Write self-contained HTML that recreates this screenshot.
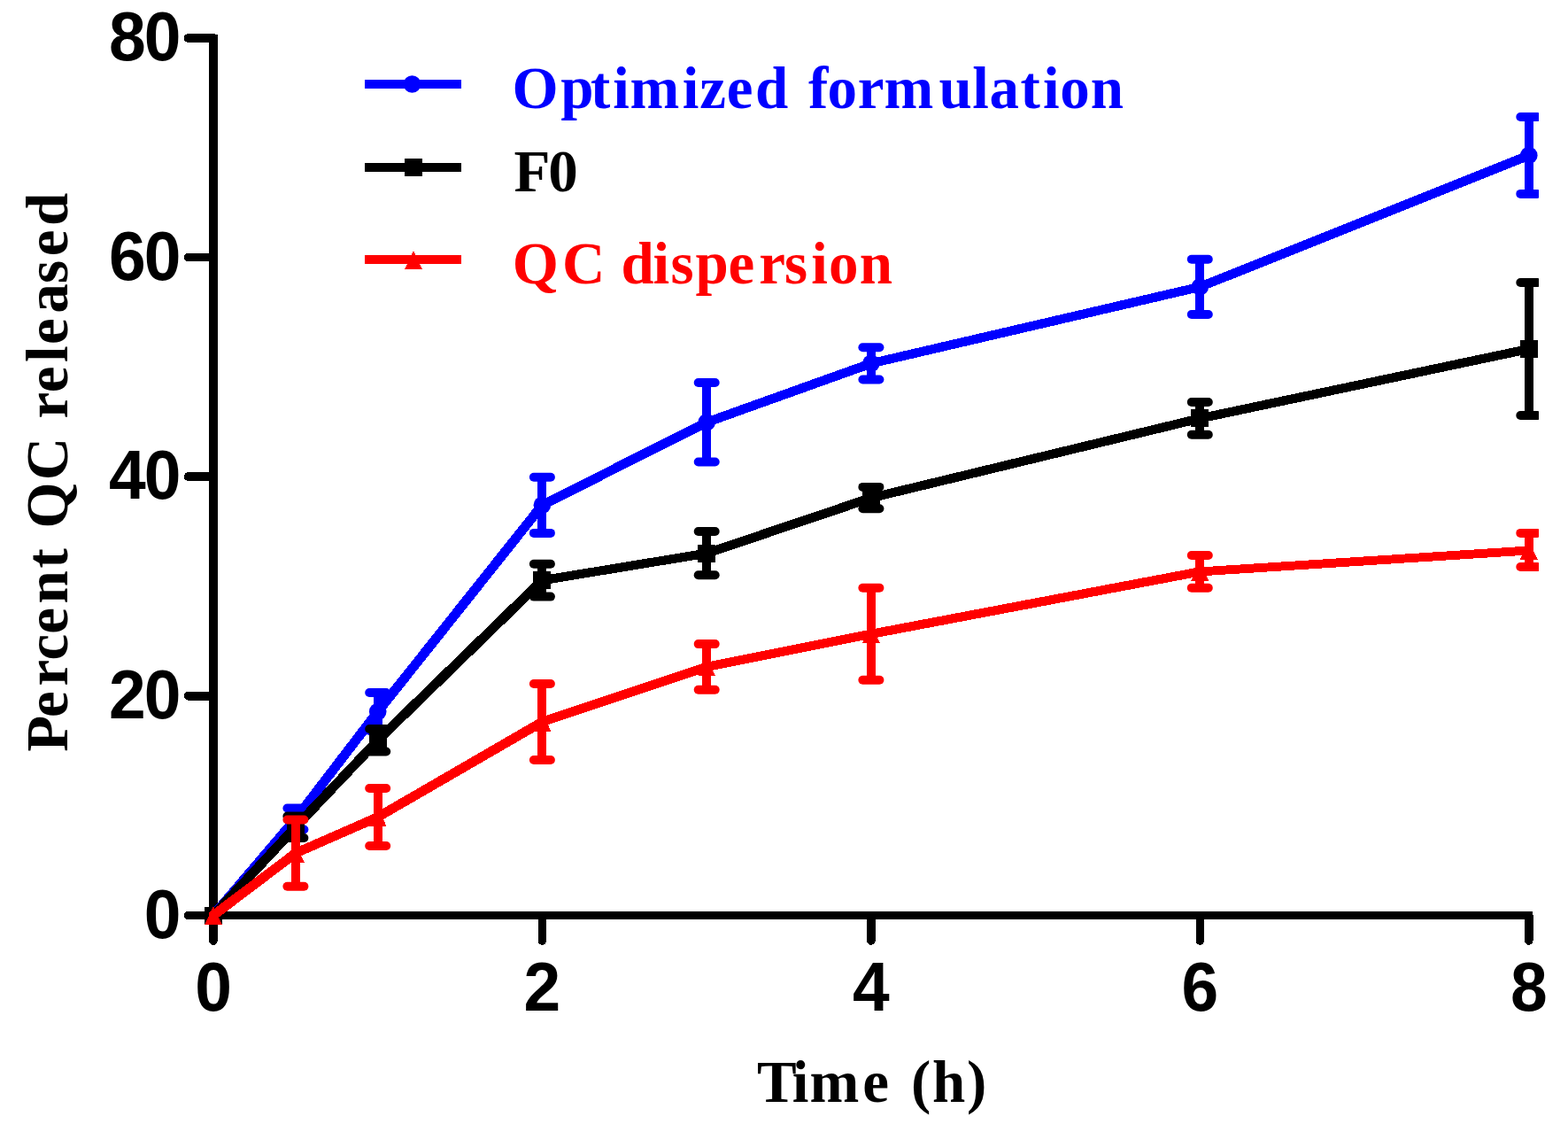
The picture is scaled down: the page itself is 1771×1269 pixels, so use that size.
<!DOCTYPE html>
<html><head><meta charset="utf-8"><title>Percent QC released vs Time</title>
<style>html,body{margin:0;padding:0;background:#fff;}svg{display:block;}</style>
</head><body>
<svg width="1771" height="1269" viewBox="0 0 1771 1269">
<defs><clipPath id="pc"><rect x="0" y="0" width="1738" height="1269"/></clipPath></defs>
<rect width="1771" height="1269" fill="#fff"/>
<g stroke="#000" fill="none" shape-rendering="crispEdges">
<line x1="241" y1="38.5" x2="241" y2="1033.5" stroke-width="10"/>
<line x1="241" y1="1033.5" x2="1731" y2="1033.5" stroke-width="9"/>
<line x1="212.5" y1="1033.5" x2="241" y2="1033.5" stroke-width="9.6" stroke-linecap="round"/>
<line x1="236" y1="1033.5" x2="241" y2="1033.5" stroke-width="9.6"/>
<line x1="212.5" y1="785.8" x2="241" y2="785.8" stroke-width="9.6" stroke-linecap="round"/>
<line x1="236" y1="785.8" x2="241" y2="785.8" stroke-width="9.6"/>
<line x1="212.5" y1="538.1" x2="241" y2="538.1" stroke-width="9.6" stroke-linecap="round"/>
<line x1="236" y1="538.1" x2="241" y2="538.1" stroke-width="9.6"/>
<line x1="212.5" y1="290.6" x2="241" y2="290.6" stroke-width="9.6" stroke-linecap="round"/>
<line x1="236" y1="290.6" x2="241" y2="290.6" stroke-width="9.6"/>
<line x1="212.5" y1="43.0" x2="241" y2="43.0" stroke-width="9.6" stroke-linecap="round"/>
<line x1="236" y1="43.0" x2="241" y2="43.0" stroke-width="9.6"/>
<line x1="241.0" y1="1033.5" x2="241.0" y2="1062" stroke-width="9.6" stroke-linecap="round"/>
<line x1="612.4" y1="1033.5" x2="612.4" y2="1062" stroke-width="9.6" stroke-linecap="round"/>
<line x1="983.9" y1="1033.5" x2="983.9" y2="1062" stroke-width="9.6" stroke-linecap="round"/>
<line x1="1355.3" y1="1033.5" x2="1355.3" y2="1062" stroke-width="9.6" stroke-linecap="round"/>
<line x1="1726.8" y1="1033.5" x2="1726.8" y2="1062" stroke-width="9.6" stroke-linecap="round"/>
<line x1="241" y1="43" x2="241" y2="38.5" stroke-width="10"/>
</g>
<g font-family="Liberation Sans, Arial, sans-serif" font-weight="bold" font-size="75" fill="#000">
<text transform="translate(204.5,1058.5) scale(1,1.035)" text-anchor="end">0</text>
<text transform="translate(202.5,810.8) scale(1,1.035)" text-anchor="end" letter-spacing="-2">20</text>
<text transform="translate(202.5,563.1) scale(1,1.035)" text-anchor="end" letter-spacing="-2">40</text>
<text transform="translate(202.5,315.6) scale(1,1.035)" text-anchor="end" letter-spacing="-2">60</text>
<text transform="translate(202.5,68.0) scale(1,1.035)" text-anchor="end" letter-spacing="-2">80</text>
<text transform="translate(241.0,1141) scale(1,1.035)" text-anchor="middle">0</text>
<text transform="translate(612.4,1141) scale(1,1.035)" text-anchor="middle">2</text>
<text transform="translate(983.9,1141) scale(1,1.035)" text-anchor="middle">4</text>
<text transform="translate(1355.3,1141) scale(1,1.035)" text-anchor="middle">6</text>
<text transform="translate(1726.8,1141) scale(1,1.035)" text-anchor="middle">8</text>
</g>
<g font-family="Liberation Serif, Times New Roman, serif" font-weight="bold" font-size="67" fill="#000">
<text x="854.9 894.8 914.5 974.3 1004.0 1029.1 1053.1 1092.0" y="1244">Time (h)</text>
<text transform="translate(75.5,847.6) rotate(-90)" x="-1.2 37.6 73.0 102.2 131.9 166.2 206.0 228.3 251.2 305.4 353.8 375.2 404.3 438.6 458.6 493.9 527.5 558.4 592.5" y="0">Percent QC released</text>
</g>
<g clip-path="url(#pc)" shape-rendering="crispEdges">
<line x1="241.0" y1="1033.5" x2="333.9" y2="924.5" stroke="#0000ff" stroke-width="10.89" stroke-linecap="round"/>
<line x1="333.9" y1="924.5" x2="426.7" y2="803.5" stroke="#0000ff" stroke-width="10.86" stroke-linecap="round"/>
<line x1="426.7" y1="803.5" x2="612.4" y2="570.3" stroke="#0000ff" stroke-width="10.87" stroke-linecap="round"/>
<line x1="612.4" y1="570.3" x2="798.2" y2="476.8" stroke="#0000ff" stroke-width="10.68" stroke-linecap="round"/>
<line x1="798.2" y1="476.8" x2="983.9" y2="410.3" stroke="#0000ff" stroke-width="10.50" stroke-linecap="round"/>
<line x1="983.9" y1="410.3" x2="1355.3" y2="323.9" stroke="#0000ff" stroke-width="10.29" stroke-linecap="round"/>
<line x1="1355.3" y1="323.9" x2="1726.8" y2="175.4" stroke="#0000ff" stroke-width="10.56" stroke-linecap="round"/>
<line x1="333.9" y1="912.5" x2="333.9" y2="936.5" stroke="#0000ff" stroke-width="10"/>
<line x1="324.4" y1="912.5" x2="343.4" y2="912.5" stroke="#0000ff" stroke-width="10" stroke-linecap="round" shape-rendering="auto"/>
<line x1="324.4" y1="936.5" x2="343.4" y2="936.5" stroke="#0000ff" stroke-width="10" stroke-linecap="round" shape-rendering="auto"/>
<line x1="426.7" y1="782.0" x2="426.7" y2="825.0" stroke="#0000ff" stroke-width="10"/>
<line x1="417.2" y1="782.0" x2="436.2" y2="782.0" stroke="#0000ff" stroke-width="10" stroke-linecap="round" shape-rendering="auto"/>
<line x1="417.2" y1="825.0" x2="436.2" y2="825.0" stroke="#0000ff" stroke-width="10" stroke-linecap="round" shape-rendering="auto"/>
<line x1="612.4" y1="538.8" x2="612.4" y2="601.9" stroke="#0000ff" stroke-width="10"/>
<line x1="602.9" y1="538.8" x2="621.9" y2="538.8" stroke="#0000ff" stroke-width="10" stroke-linecap="round" shape-rendering="auto"/>
<line x1="602.9" y1="601.9" x2="621.9" y2="601.9" stroke="#0000ff" stroke-width="10" stroke-linecap="round" shape-rendering="auto"/>
<line x1="798.2" y1="432.0" x2="798.2" y2="521.5" stroke="#0000ff" stroke-width="10"/>
<line x1="788.7" y1="432.0" x2="807.7" y2="432.0" stroke="#0000ff" stroke-width="10" stroke-linecap="round" shape-rendering="auto"/>
<line x1="788.7" y1="521.5" x2="807.7" y2="521.5" stroke="#0000ff" stroke-width="10" stroke-linecap="round" shape-rendering="auto"/>
<line x1="983.9" y1="392.2" x2="983.9" y2="428.5" stroke="#0000ff" stroke-width="10"/>
<line x1="974.4" y1="392.2" x2="993.4" y2="392.2" stroke="#0000ff" stroke-width="10" stroke-linecap="round" shape-rendering="auto"/>
<line x1="974.4" y1="428.5" x2="993.4" y2="428.5" stroke="#0000ff" stroke-width="10" stroke-linecap="round" shape-rendering="auto"/>
<line x1="1355.3" y1="292.8" x2="1355.3" y2="355.0" stroke="#0000ff" stroke-width="10"/>
<line x1="1345.8" y1="292.8" x2="1364.8" y2="292.8" stroke="#0000ff" stroke-width="10" stroke-linecap="round" shape-rendering="auto"/>
<line x1="1345.8" y1="355.0" x2="1364.8" y2="355.0" stroke="#0000ff" stroke-width="10" stroke-linecap="round" shape-rendering="auto"/>
<line x1="1726.8" y1="132.0" x2="1726.8" y2="218.9" stroke="#0000ff" stroke-width="10"/>
<line x1="1717.3" y1="132.0" x2="1736.3" y2="132.0" stroke="#0000ff" stroke-width="10" stroke-linecap="round" shape-rendering="auto"/>
<line x1="1717.3" y1="218.9" x2="1736.3" y2="218.9" stroke="#0000ff" stroke-width="10" stroke-linecap="round" shape-rendering="auto"/>
<circle cx="241.0" cy="1033.5" r="9.8" fill="#0000ff" shape-rendering="auto"/>
<circle cx="333.9" cy="924.5" r="9.8" fill="#0000ff" shape-rendering="auto"/>
<circle cx="426.7" cy="803.5" r="9.8" fill="#0000ff" shape-rendering="auto"/>
<circle cx="612.4" cy="570.3" r="9.8" fill="#0000ff" shape-rendering="auto"/>
<circle cx="798.2" cy="476.8" r="9.8" fill="#0000ff" shape-rendering="auto"/>
<circle cx="983.9" cy="410.3" r="9.8" fill="#0000ff" shape-rendering="auto"/>
<circle cx="1355.3" cy="323.9" r="9.8" fill="#0000ff" shape-rendering="auto"/>
<circle cx="1726.8" cy="175.4" r="9.8" fill="#0000ff" shape-rendering="auto"/>
<line x1="241.0" y1="1033.5" x2="333.9" y2="933.7" stroke="#000000" stroke-width="10.90" stroke-linecap="round"/>
<line x1="333.9" y1="933.7" x2="426.7" y2="835.8" stroke="#000000" stroke-width="10.90" stroke-linecap="round"/>
<line x1="426.7" y1="835.8" x2="612.4" y2="655.2" stroke="#000000" stroke-width="10.90" stroke-linecap="round"/>
<line x1="612.4" y1="655.2" x2="798.2" y2="624.7" stroke="#000000" stroke-width="10.15" stroke-linecap="round"/>
<line x1="798.2" y1="624.7" x2="983.9" y2="562.1" stroke="#000000" stroke-width="10.47" stroke-linecap="round"/>
<line x1="983.9" y1="562.1" x2="1355.3" y2="472.4" stroke="#000000" stroke-width="10.30" stroke-linecap="round"/>
<line x1="1355.3" y1="472.4" x2="1726.8" y2="394.0" stroke="#000000" stroke-width="10.24" stroke-linecap="round"/>
<line x1="333.9" y1="921.5" x2="333.9" y2="946.0" stroke="#000000" stroke-width="10"/>
<line x1="324.4" y1="921.5" x2="343.4" y2="921.5" stroke="#000000" stroke-width="10" stroke-linecap="round" shape-rendering="auto"/>
<line x1="324.4" y1="946.0" x2="343.4" y2="946.0" stroke="#000000" stroke-width="10" stroke-linecap="round" shape-rendering="auto"/>
<line x1="426.7" y1="823.0" x2="426.7" y2="848.5" stroke="#000000" stroke-width="10"/>
<line x1="417.2" y1="823.0" x2="436.2" y2="823.0" stroke="#000000" stroke-width="10" stroke-linecap="round" shape-rendering="auto"/>
<line x1="417.2" y1="848.5" x2="436.2" y2="848.5" stroke="#000000" stroke-width="10" stroke-linecap="round" shape-rendering="auto"/>
<line x1="612.4" y1="636.8" x2="612.4" y2="673.6" stroke="#000000" stroke-width="10"/>
<line x1="602.9" y1="636.8" x2="621.9" y2="636.8" stroke="#000000" stroke-width="10" stroke-linecap="round" shape-rendering="auto"/>
<line x1="602.9" y1="673.6" x2="621.9" y2="673.6" stroke="#000000" stroke-width="10" stroke-linecap="round" shape-rendering="auto"/>
<line x1="798.2" y1="600.0" x2="798.2" y2="649.3" stroke="#000000" stroke-width="10"/>
<line x1="788.7" y1="600.0" x2="807.7" y2="600.0" stroke="#000000" stroke-width="10" stroke-linecap="round" shape-rendering="auto"/>
<line x1="788.7" y1="649.3" x2="807.7" y2="649.3" stroke="#000000" stroke-width="10" stroke-linecap="round" shape-rendering="auto"/>
<line x1="983.9" y1="549.9" x2="983.9" y2="574.3" stroke="#000000" stroke-width="10"/>
<line x1="974.4" y1="549.9" x2="993.4" y2="549.9" stroke="#000000" stroke-width="10" stroke-linecap="round" shape-rendering="auto"/>
<line x1="974.4" y1="574.3" x2="993.4" y2="574.3" stroke="#000000" stroke-width="10" stroke-linecap="round" shape-rendering="auto"/>
<line x1="1355.3" y1="454.0" x2="1355.3" y2="490.8" stroke="#000000" stroke-width="10"/>
<line x1="1345.8" y1="454.0" x2="1364.8" y2="454.0" stroke="#000000" stroke-width="10" stroke-linecap="round" shape-rendering="auto"/>
<line x1="1345.8" y1="490.8" x2="1364.8" y2="490.8" stroke="#000000" stroke-width="10" stroke-linecap="round" shape-rendering="auto"/>
<line x1="1726.8" y1="319.0" x2="1726.8" y2="469.0" stroke="#000000" stroke-width="10"/>
<line x1="1717.3" y1="319.0" x2="1736.3" y2="319.0" stroke="#000000" stroke-width="10" stroke-linecap="round" shape-rendering="auto"/>
<line x1="1717.3" y1="469.0" x2="1736.3" y2="469.0" stroke="#000000" stroke-width="10" stroke-linecap="round" shape-rendering="auto"/>
<rect x="231.0" y="1023.5" width="20" height="20" fill="#000000"/>
<rect x="323.9" y="923.7" width="20" height="20" fill="#000000"/>
<rect x="416.7" y="825.8" width="20" height="20" fill="#000000"/>
<rect x="602.4" y="645.2" width="20" height="20" fill="#000000"/>
<rect x="788.2" y="614.7" width="20" height="20" fill="#000000"/>
<rect x="973.9" y="552.1" width="20" height="20" fill="#000000"/>
<rect x="1345.3" y="462.4" width="20" height="20" fill="#000000"/>
<rect x="1716.8" y="384.0" width="20" height="20" fill="#000000"/>
<line x1="241.0" y1="1033.5" x2="333.9" y2="963.2" stroke="#ff0000" stroke-width="10.86" stroke-linecap="round"/>
<line x1="333.9" y1="963.2" x2="426.7" y2="922.5" stroke="#ff0000" stroke-width="10.61" stroke-linecap="round"/>
<line x1="426.7" y1="922.5" x2="612.4" y2="815.0" stroke="#ff0000" stroke-width="10.75" stroke-linecap="round"/>
<line x1="612.4" y1="815.0" x2="798.2" y2="752.9" stroke="#ff0000" stroke-width="10.46" stroke-linecap="round"/>
<line x1="798.2" y1="752.9" x2="983.9" y2="715.8" stroke="#ff0000" stroke-width="10.22" stroke-linecap="round"/>
<line x1="983.9" y1="715.8" x2="1355.3" y2="645.4" stroke="#ff0000" stroke-width="10.20" stroke-linecap="round"/>
<line x1="1355.3" y1="645.4" x2="1726.8" y2="621.5" stroke="#ff0000" stroke-width="9.94" stroke-linecap="round"/>
<line x1="333.9" y1="925.5" x2="333.9" y2="1000.8" stroke="#ff0000" stroke-width="10"/>
<line x1="324.4" y1="925.5" x2="343.4" y2="925.5" stroke="#ff0000" stroke-width="10" stroke-linecap="round" shape-rendering="auto"/>
<line x1="324.4" y1="1000.8" x2="343.4" y2="1000.8" stroke="#ff0000" stroke-width="10" stroke-linecap="round" shape-rendering="auto"/>
<line x1="426.7" y1="890.0" x2="426.7" y2="955.0" stroke="#ff0000" stroke-width="10"/>
<line x1="417.2" y1="890.0" x2="436.2" y2="890.0" stroke="#ff0000" stroke-width="10" stroke-linecap="round" shape-rendering="auto"/>
<line x1="417.2" y1="955.0" x2="436.2" y2="955.0" stroke="#ff0000" stroke-width="10" stroke-linecap="round" shape-rendering="auto"/>
<line x1="612.4" y1="772.0" x2="612.4" y2="858.0" stroke="#ff0000" stroke-width="10"/>
<line x1="602.9" y1="772.0" x2="621.9" y2="772.0" stroke="#ff0000" stroke-width="10" stroke-linecap="round" shape-rendering="auto"/>
<line x1="602.9" y1="858.0" x2="621.9" y2="858.0" stroke="#ff0000" stroke-width="10" stroke-linecap="round" shape-rendering="auto"/>
<line x1="798.2" y1="727.1" x2="798.2" y2="778.7" stroke="#ff0000" stroke-width="10"/>
<line x1="788.7" y1="727.1" x2="807.7" y2="727.1" stroke="#ff0000" stroke-width="10" stroke-linecap="round" shape-rendering="auto"/>
<line x1="788.7" y1="778.7" x2="807.7" y2="778.7" stroke="#ff0000" stroke-width="10" stroke-linecap="round" shape-rendering="auto"/>
<line x1="983.9" y1="663.8" x2="983.9" y2="767.8" stroke="#ff0000" stroke-width="10"/>
<line x1="974.4" y1="663.8" x2="993.4" y2="663.8" stroke="#ff0000" stroke-width="10" stroke-linecap="round" shape-rendering="auto"/>
<line x1="974.4" y1="767.8" x2="993.4" y2="767.8" stroke="#ff0000" stroke-width="10" stroke-linecap="round" shape-rendering="auto"/>
<line x1="1355.3" y1="627.0" x2="1355.3" y2="663.8" stroke="#ff0000" stroke-width="10"/>
<line x1="1345.8" y1="627.0" x2="1364.8" y2="627.0" stroke="#ff0000" stroke-width="10" stroke-linecap="round" shape-rendering="auto"/>
<line x1="1345.8" y1="663.8" x2="1364.8" y2="663.8" stroke="#ff0000" stroke-width="10" stroke-linecap="round" shape-rendering="auto"/>
<line x1="1726.8" y1="601.9" x2="1726.8" y2="640.0" stroke="#ff0000" stroke-width="10"/>
<line x1="1717.3" y1="601.9" x2="1736.3" y2="601.9" stroke="#ff0000" stroke-width="10" stroke-linecap="round" shape-rendering="auto"/>
<line x1="1717.3" y1="640.0" x2="1736.3" y2="640.0" stroke="#ff0000" stroke-width="10" stroke-linecap="round" shape-rendering="auto"/>
<polygon points="241.0,1023.0 251.0,1044.0 231.0,1044.0" fill="#ff0000"/>
<polygon points="333.9,952.7 343.9,973.7 323.9,973.7" fill="#ff0000"/>
<polygon points="426.7,912.0 436.7,933.0 416.7,933.0" fill="#ff0000"/>
<polygon points="612.4,804.5 622.4,825.5 602.4,825.5" fill="#ff0000"/>
<polygon points="798.2,742.4 808.2,763.4 788.2,763.4" fill="#ff0000"/>
<polygon points="983.9,705.3 993.9,726.3 973.9,726.3" fill="#ff0000"/>
<polygon points="1355.3,634.9 1365.3,655.9 1345.3,655.9" fill="#ff0000"/>
<polygon points="1726.8,611.0 1736.8,632.0 1716.8,632.0" fill="#ff0000"/>
</g>
<g shape-rendering="crispEdges">
<line x1="411.5" y1="95" x2="520.5" y2="95" stroke="#0000ff" stroke-width="9.6"/>
<circle cx="465.5" cy="95.0" r="9.8" fill="#0000ff" shape-rendering="auto"/>
<line x1="412" y1="189" x2="521" y2="189" stroke="#000" stroke-width="9.6"/>
<rect x="457.0" y="179.4" width="20" height="20" fill="#000"/>
<line x1="412" y1="293" x2="521" y2="293" stroke="#ff0000" stroke-width="9.6"/>
<polygon points="467.0,283.0 477.0,304.0 457.0,304.0" fill="#ff0000"/>
</g>
<g font-family="Liberation Serif, Times New Roman, serif" font-weight="bold" font-size="67">
<text x="578.6 633.3 667.0 692.3 711.4 770.7 790.3 820.7 853.1 890.4 912.9 934.5 968.8 998.4 1060.6 1098.3 1117.6 1152.6 1177.9 1197.2 1231.7" y="121.7" fill="#0000ff">Optimized formulation</text>
<text x="580.4 619.2" y="216" fill="#000">F0</text>
<text x="578.7 635.1 683.5 701.4 737.5 757.6 785.4 822.6 857.2 886.1 916.2 936.1 970.8" y="320" fill="#ff0000">QC dispersion</text>
</g>
</svg>
</body></html>
